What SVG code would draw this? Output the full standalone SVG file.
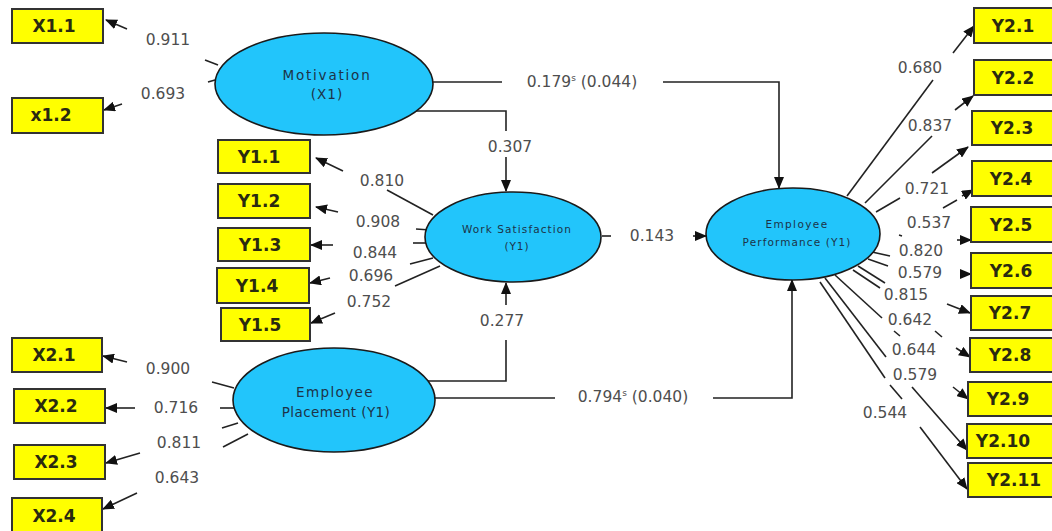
<svg xmlns="http://www.w3.org/2000/svg" width="1052" height="531" viewBox="0 0 1052 531">
<style>
.box{fill:#ffff00;stroke:#333;stroke-width:2}
.bt{font-family:"DejaVu Sans",sans-serif;font-weight:bold;font-size:17px;fill:#2a2a10;text-anchor:middle}
.lv{fill:#22c5fb;stroke:#1a1a1a;stroke-width:1.6}
.lt{font-family:"DejaVu Sans",sans-serif;fill:#1d3348;text-anchor:middle}
.num{font-family:"DejaVu Sans",sans-serif;font-size:15.5px;fill:#4e4e4e;text-anchor:middle}
.c{fill:none;stroke:#222;stroke-width:1.6}
.a{marker-end:url(#ah)}
</style>
<defs>
<marker id="ah" markerUnits="userSpaceOnUse" markerWidth="12" markerHeight="10" refX="11" refY="5" orient="auto">
<path d="M0,0 L12,5 L0,10 Z" fill="#111"/>
</marker>
</defs>
<rect width="1052" height="531" fill="#fff"/>

<g id="connectors">
<path class="c" d="M432,82 H502"/>
<path class="c a" d="M663,82 H779 V188"/>
<path class="c" d="M414,111 H506 V131"/>
<path class="c a" d="M506,157 V191"/>
<path class="c" d="M426,381 H506 V340"/>
<path class="c a" d="M506,305 V283"/>
<path class="c" d="M435,398 H555"/>
<path class="c a" d="M713,398 H792 V280"/>
<path class="c" d="M602,236 H611"/>
<path class="c a" d="M693,236 H706"/>
<path class="c" d="M205,60 L218,65"/>
<path class="c a" d="M127,29 L106,20"/>
<path class="c" d="M208,82 L215,80"/>
<path class="c a" d="M122,104 L104,110"/>
<path class="c" d="M387,190 L433,215"/>
<path class="c a" d="M343,171 L316,158"/>
<path class="c" d="M416,229 L430,230"/>
<path class="c a" d="M338,212 L316,207"/>
<path class="c" d="M413,243 L427,243"/>
<path class="c a" d="M333,245 L311,245"/>
<path class="c" d="M410,264 L433,258"/>
<path class="c a" d="M330,278 L310,283"/>
<path class="c" d="M395,286 L440,266"/>
<path class="c a" d="M335,313 L311,323"/>
<path class="c" d="M212,382 L234,388"/>
<path class="c a" d="M127,362 L103,356"/>
<path class="c" d="M220,408 L234,408"/>
<path class="c a" d="M135,408 L106,408"/>
<path class="c" d="M222,428 L238,423"/>
<path class="c" d="M223,447 L248,434"/>
<path class="c a" d="M140,453 L106,463"/>
<path class="c a" d="M137,493 L103,509"/>
<path class="c" d="M847,196 L933,80"/>
<path class="c a" d="M953,53 L974,26"/>
<path class="c" d="M865,203 L932,136"/>
<path class="c a" d="M955,110 L973,96"/>
<path class="c" d="M876,212 L900,198"/>
<path class="c a" d="M932,173 L968,147"/>
<path class="c" d="M943,208 L957,200"/>
<path class="c a" d="M962,196 L973,190"/>
<path class="c" d="M899,235 L902,236"/>
<path class="c" d="M872,252 L890,256"/>
<path class="c a" d="M957,240 L971,240"/>
<path class="c" d="M868,259 L888,266"/>
<path class="c a" d="M960,274 L971,274"/>
<path class="c" d="M858,266 L885,283"/>
<path class="c a" d="M947,304 L970,313"/>
<path class="c" d="M853,270 L880,288"/>
<path class="c" d="M894,331 L900,336"/>
<path class="c" d="M935,331 L942,337"/>
<path class="c a" d="M956,348 L970,357"/>
<path class="c" d="M835,275 L882,318"/>
<path class="c a" d="M953,387 L968,399"/>
<path class="c" d="M825,278 L886,357"/>
<path class="c a" d="M912,387 L967,450"/>
<path class="c" d="M820,282 L885,378"/>
<path class="c" d="M890,385 L902,399"/>
<path class="c a" d="M920,427 L967,489"/>
</g>

<g id="labels">
<text class="num" x="168" y="45">0.911</text>
<text class="num" x="163" y="99">0.693</text>
<text class="num" x="382" y="186">0.810</text>
<text class="num" x="378" y="227">0.908</text>
<text class="num" x="375" y="258">0.844</text>
<text class="num" x="371" y="281">0.696</text>
<text class="num" x="369" y="307">0.752</text>
<text class="num" x="168" y="374">0.900</text>
<text class="num" x="176" y="413">0.716</text>
<text class="num" x="179" y="448">0.811</text>
<text class="num" x="177" y="483">0.643</text>
<text class="num" x="510" y="152">0.307</text>
<text class="num" x="502" y="326">0.277</text>
<text class="num" x="652" y="241">0.143</text>
<text class="num" x="582" y="87">0.179<tspan font-size="9" dy="-6">s</tspan><tspan dy="6"> (0.044)</tspan></text>
<text class="num" x="633" y="402">0.794<tspan font-size="9" dy="-6">s</tspan><tspan dy="6"> (0.040)</tspan></text>
<text class="num" x="920" y="73">0.680</text>
<text class="num" x="930" y="131">0.837</text>
<text class="num" x="927" y="194">0.721</text>
<text class="num" x="929" y="228">0.537</text>
<text class="num" x="921" y="256">0.820</text>
<text class="num" x="920" y="278">0.579</text>
<text class="num" x="906" y="300">0.815</text>
<text class="num" x="910" y="325">0.642</text>
<text class="num" x="914" y="355">0.644</text>
<text class="num" x="915" y="380">0.579</text>
<text class="num" x="885" y="418">0.544</text>
</g>

<g id="motivation"><ellipse class="lv" cx="324" cy="84" rx="109" ry="51"/>
<text class="lt" x="327" y="80" font-size="13.5" letter-spacing="1.8">Motivation</text>
<text class="lt" x="327" y="99" font-size="13.5" letter-spacing="1">(X1)</text></g>
<g id="work-satisfaction"><ellipse class="lv" cx="513" cy="237" rx="88" ry="45"/>
<text class="lt" x="517" y="233" font-size="10.5" letter-spacing="1.1">Work Satisfaction</text>
<text class="lt" x="517" y="250" font-size="10.5" letter-spacing="0.9">(Y1)</text></g>
<g id="employee-performance"><ellipse class="lv" cx="793" cy="234" rx="87" ry="46"/>
<text class="lt" x="797" y="228" font-size="10.5" letter-spacing="1.4">Employee</text>
<text class="lt" x="797" y="246" font-size="10.5" letter-spacing="1.1">Performance (Y1)</text></g>
<g id="employee-placement"><ellipse class="lv" cx="334" cy="400" rx="101" ry="52"/>
<text class="lt" x="335" y="397" font-size="13.5" letter-spacing="1.4">Employee</text>
<text class="lt" x="336" y="417" font-size="13.5" letter-spacing="0.4">Placement (Y1)</text></g>

<g id="X1.1"><rect class="box" x="12" y="9" width="91" height="34"/><text class="bt" x="54" y="32">X1.1</text></g>
<g id="x1.2"><rect class="box" x="12" y="98" width="91" height="35"/><text class="bt" x="51" y="121">x1.2</text></g>
<g id="Y1.1"><rect class="box" x="218" y="140" width="92" height="33"/><text class="bt" x="259" y="163">Y1.1</text></g>
<g id="Y1.2"><rect class="box" x="218" y="184" width="92" height="34"/><text class="bt" x="259" y="207">Y1.2</text></g>
<g id="Y1.3"><rect class="box" x="218" y="228" width="92" height="33"/><text class="bt" x="260" y="251">Y1.3</text></g>
<g id="Y1.4"><rect class="box" x="217" y="268" width="92" height="35"/><text class="bt" x="257" y="292">Y1.4</text></g>
<g id="Y1.5"><rect class="box" x="221" y="308" width="89" height="33"/><text class="bt" x="260" y="331">Y1.5</text></g>
<g id="X2.1"><rect class="box" x="12" y="338" width="90" height="34"/><text class="bt" x="54" y="361">X2.1</text></g>
<g id="X2.2"><rect class="box" x="14" y="389" width="91" height="34"/><text class="bt" x="56" y="412">X2.2</text></g>
<g id="X2.3"><rect class="box" x="14" y="445" width="91" height="34"/><text class="bt" x="56" y="468">X2.3</text></g>
<g id="X2.4"><rect class="box" x="12" y="498" width="90" height="35"/><text class="bt" x="54" y="522">X2.4</text></g>

<g id="Y2.1"><rect class="box" x="974" y="8" width="82" height="35"/><text class="bt" x="1013" y="32">Y2.1</text></g>
<g id="Y2.2"><rect class="box" x="974" y="60" width="82" height="35"/><text class="bt" x="1013" y="84">Y2.2</text></g>
<g id="Y2.3"><rect class="box" x="972" y="111" width="84" height="34"/><text class="bt" x="1012" y="134">Y2.3</text></g>
<g id="Y2.4"><rect class="box" x="972" y="161" width="84" height="35"/><text class="bt" x="1011" y="185">Y2.4</text></g>
<g id="Y2.5"><rect class="box" x="971" y="207" width="85" height="35"/><text class="bt" x="1011" y="231">Y2.5</text></g>
<g id="Y2.6"><rect class="box" x="971" y="253" width="85" height="35"/><text class="bt" x="1011" y="277">Y2.6</text></g>
<g id="Y2.7"><rect class="box" x="971" y="296" width="85" height="34"/><text class="bt" x="1010" y="319">Y2.7</text></g>
<g id="Y2.8"><rect class="box" x="970" y="338" width="86" height="34"/><text class="bt" x="1010" y="361">Y2.8</text></g>
<g id="Y2.9"><rect class="box" x="968" y="382" width="88" height="34"/><text class="bt" x="1008" y="405">Y2.9</text></g>
<g id="Y2.10"><rect class="box" x="967" y="424" width="89" height="34"/><text class="bt" x="1003" y="447">Y2.10</text></g>
<g id="Y2.11"><rect class="box" x="968" y="463" width="88" height="34"/><text class="bt" x="1014" y="486">Y2.11</text></g>
</svg>
